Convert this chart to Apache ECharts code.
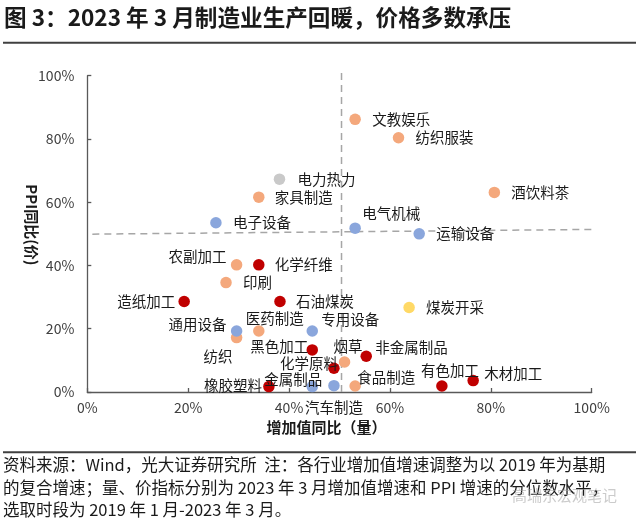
<!DOCTYPE html>
<html>
<head>
<meta charset="utf-8">
<script src="https://cdn.jsdelivr.net/npm/echarts@6/dist/echarts.min.js"></script>
<style>
  html, body { margin: 0; padding: 0; background: #fff; }
  #chart { width: 640px; height: 522px; }
</style>
</head>
<body>
<div id="chart"></div>
<script>
// ---- data (x: 增加值同比分位数 %, y: PPI同比分位数 %) ----
const consumerGoods = [
  ['文教娱乐', 53.1, 86.2],
  ['纺织服装', 61.7, 80.4],
  ['酒饮料茶', 80.7, 63.1],
  ['家具制造', 34.0, 61.6],
  ['农副加工', 29.6, 40.2],
  ['印刷', 27.5, 34.6],
  ['医药制造', 34.0, 19.3],
  ['纺织', 29.6, 17.2],
  ['烟草', 51.0, 9.5],
  ['食品制造', 53.1, 1.9]
];
const rawMaterials = [
  ['化学纤维', 34.0, 40.2],
  ['造纸加工', 19.2, 28.6],
  ['石油煤炭', 38.2, 28.6],
  ['黑色加工', 44.6, 13.3],
  ['非金属制品', 55.3, 11.3],
  ['化学原料', 48.9, 7.5],
  ['木材加工', 76.5, 3.6],
  ['有色加工', 70.3, 1.9],
  ['橡胶塑料', 36.0, 1.7]
];
const equipment = [
  ['电子设备', 25.5, 53.5],
  ['电气机械', 53.1, 51.8],
  ['运输设备', 65.8, 50.0],
  ['通用设备', 29.6, 19.3],
  ['专用设备', 44.6, 19.3],
  ['金属制品', 44.6, 1.7],
  ['汽车制造', 48.9, 2.0]
];
const utilities = [
  ['电力热力', 38.1, 67.3]
];
const mining = [
  ['煤炭开采', 63.8, 26.7]
];
const volumeMedianLine = [[50.4, 0], [50.4, 101.6]];
const priceMedianLine = [[1.0, 49.9], [100.3, 51.4]];
const axisTicks = [0, 20, 40, 60, 80, 100];

const titleText = '图 3：2023 年 3 月制造业生产回暖，价格多数承压';
const footerLines = [
  '资料来源：Wind，光大证券研究所  注：各行业增加值增速调整为以 2019 年为基期',
  '的复合增速；量、价指标分别为 2023 年 3 月增加值增速和 PPI 增速的分位数水平，',
  '选取时段为 2019 年 1 月-2023 年 3 月。'
];
const watermarkText = '高瑞东宏观笔记';

// ---- label placement (style only): [align, dx, dy] relative to dot centre ----
const labelPlacement = {
  '文教娱乐': ['left', 17, 0], '纺织服装': ['left', 17, 0], '酒饮料茶': ['left', 17, 0],
  '电气机械': ['left', 7, -15], '运输设备': ['left', 17, 0], '电力热力': ['left', 18, 0],
  '家具制造': ['left', 16, 0], '电子设备': ['left', 17, 0], '农副加工': ['right', -10, -8],
  '化学纤维': ['left', 16, 0], '印刷': ['left', 17, 0], '造纸加工': ['right', -9, 0],
  '石油煤炭': ['left', 16, 0], '通用设备': ['right', -10, -6], '医药制造': ['left', -13, -12],
  '专用设备': ['left', 9, -11], '纺织': ['right', -4, 19], '黑色加工': ['right', -4, -3],
  '烟草': ['left', -11, -15], '化学原料': ['right', 4, -5], '非金属制品': ['left', 9, -9],
  '橡胶塑料': ['right', -7, -1], '金属制品': ['right', 10, -7], '汽车制造': ['center', 0, 22],
  '食品制造': ['left', 2, -9], '有色加工': ['left', -21, -16], '木材加工': ['left', 11, -7],
  '煤炭开采': ['left', 17, 0]
};

const FONT = '"Noto Sans CJK SC", "Noto Sans", sans-serif';

function toItems(group) {
  return group.map(function (d) {
    const p = labelPlacement[d[0]] || ['left', 17, 0];
    return {
      name: d[0],
      value: [d[1], d[2]],
      label: { align: p[0], offset: [p[1], p[2]] }
    };
  });
}

function scatterSeries(name, group, color) {
  return {
    name: name,
    type: 'scatter',
    symbol: 'circle',
    symbolSize: 11.5,
    z: 3,
    itemStyle: { color: color, opacity: 1 },
    label: {
      show: true,
      position: 'inside',
      verticalAlign: 'middle',
      formatter: '{b}',
      color: '#1a1a1a',
      fontSize: 14.5,
      fontFamily: FONT
    },
    emphasis: { disabled: true },
    data: toItems(group)
  };
}

function dashSeries(data) {
  return {
    type: 'line',
    data: data,
    symbol: 'none',
    clip: false,
    silent: true,
    z: 1,
    lineStyle: { color: '#A6A6A6', width: 1.5, type: [7, 5] }
  };
}

const chart = echarts.init(document.getElementById('chart'), null, { renderer: 'canvas' });

const axisCommon = {
  type: 'value',
  min: axisTicks[0],
  max: axisTicks[axisTicks.length - 1],
  interval: axisTicks[1] - axisTicks[0],
  axisLine: { show: true, lineStyle: { color: '#595959', width: 1.3 } },
  axisTick: { show: true, inside: true, length: 4, lineStyle: { color: '#595959', width: 1.3 } },
  splitLine: { show: false },
  axisLabel: { formatter: '{value}%', color: '#404040', fontSize: 14, fontFamily: FONT }
};

chart.setOption({
  animation: false,
  backgroundColor: '#ffffff',
  grid: { left: 87.3, right: 48.3, top: 75.7, bottom: 130 },
  xAxis: Object.assign({}, axisCommon, {
    axisLabel: Object.assign({}, axisCommon.axisLabel, { margin: 9 }),
    name: '增加值同比（量）',
    nameLocation: 'middle',
    nameGap: 28,
    nameMoveOverlap: false,
    nameTextStyle: { fontWeight: 'bold', fontSize: 15, color: '#1a1a1a', fontFamily: FONT, padding: [0, 26, 0, 0] }
  }),
  yAxis: Object.assign({}, axisCommon, {
    axisLabel: Object.assign({}, axisCommon.axisLabel, { margin: 13 }),
    name: 'PPI同比(价)',
    nameLocation: 'middle',
    nameRotate: -90,
    nameGap: 48,
    nameMoveOverlap: false,
    nameTextStyle: { fontWeight: 'bold', fontSize: 15, color: '#1a1a1a', fontFamily: FONT, padding: [0, 18, 0, 0] }
  }),
  series: [
    dashSeries(volumeMedianLine),
    dashSeries(priceMedianLine),
    scatterSeries('消费品', consumerGoods, '#F4A87C'),
    scatterSeries('原材料', rawMaterials, '#C00000'),
    scatterSeries('装备制造', equipment, '#8AA6DC'),
    scatterSeries('公用事业', utilities, '#C9C9C9'),
    scatterSeries('采矿', mining, '#FFD966')
  ],
  graphic: [
    { type: 'text', x: 4, y: 17, style: { text: titleText, font: 'bold 22.6px ' + FONT, fill: '#1a1a1a', verticalAlign: 'middle' } },
    { type: 'line', shape: { x1: 3, y1: 42.7, x2: 636, y2: 42.7 }, style: { stroke: '#404040', lineWidth: 2 } },
    { type: 'line', shape: { x1: 3, y1: 452.3, x2: 636, y2: 452.3 }, style: { stroke: '#404040', lineWidth: 2 } },
    { type: 'text', x: 3, y: 465, style: { text: footerLines[0], font: '16.5px ' + FONT, fill: '#1a1a1a', verticalAlign: 'middle' } },
    { type: 'text', x: 3, y: 488, style: { text: footerLines[1], font: '16.5px ' + FONT, fill: '#1a1a1a', verticalAlign: 'middle' } },
    { type: 'text', x: 3, y: 510, style: { text: footerLines[2], font: '16.5px ' + FONT, fill: '#1a1a1a', verticalAlign: 'middle' } },
    { type: 'text', x: 512, y: 495, z: 10, style: { text: watermarkText, font: '15px ' + FONT, fill: 'rgba(160,160,160,0.55)', verticalAlign: 'middle' } }
  ]
});
</script>
</body>
</html>
